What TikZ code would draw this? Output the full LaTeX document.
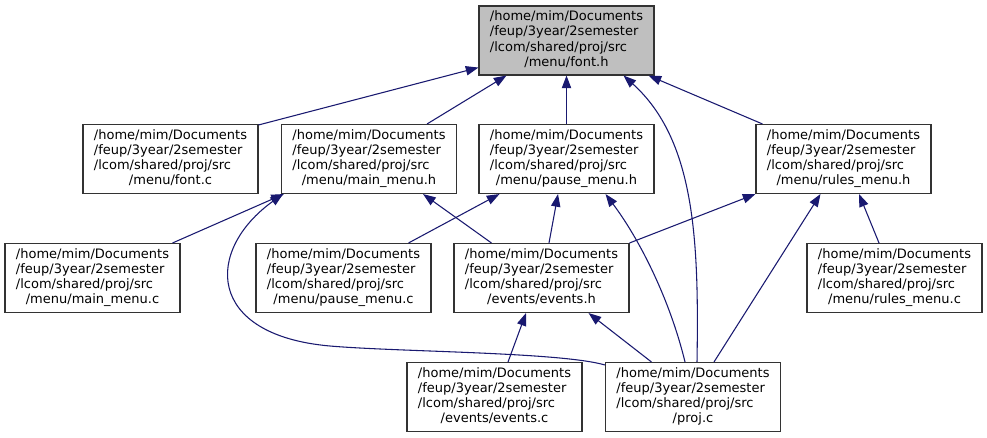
\documentclass[tikz,border=0pt]{standalone}
\usepackage{fontspec}
\setmainfont{DejaVu Sans}
\usetikzlibrary{arrows.meta,calc}
\definecolor{edgeblue}{HTML}{191970}
\definecolor{rootfill}{HTML}{BFBFBF}
\newcommand{\doxlabel}[1]{\begin{tabular}{@{}l@{}}/home/mim/Documents\\/feup/3year/2semester\\/lcom/shared/proj/src\\\multicolumn{1}{@{}c@{}}{#1}\end{tabular}}
\begin{document}
\begin{tikzpicture}[x=0.75pt,y=-0.75pt,
  file/.style={draw=black!80, line width=0.8pt, fill=white, rectangle, minimum width=131.25pt, minimum height=51.75pt, inner sep=0pt, font=\fontsize{9.75pt}{11.4pt}\selectfont},
  rootfile/.style={file, fill=rootfill},
  dep/.style={draw=edgeblue, line width=0.8pt, <-, >={Triangle[length=9.5pt,width=7pt]}}
]
\fill[white] (0,0) rectangle (987,437);

\node[rootfile] (fonth) at (566.5,40.5) {\doxlabel{/menu/font.h}};
\node[file] (fontc) at (170.5,159) {\doxlabel{/menu/font.c}};
\node[file] (mainh) at (369,159) {\doxlabel{/menu/main\_menu.h}};
\node[file] (pauseh) at (566.5,159) {\doxlabel{/menu/pause\_menu.h}};
\node[file] (rulesh) at (843.5,159) {\doxlabel{/menu/rules\_menu.h}};
\node[file] (mainc) at (92.5,278) {\doxlabel{/menu/main\_menu.c}};
\node[file] (pausec) at (343.5,278) {\doxlabel{/menu/pause\_menu.c}};
\node[file] (eventsh) at (541.5,278) {\doxlabel{/events/events.h}};
\node[file] (rulesc) at (894.5,278) {\doxlabel{/menu/rules\_menu.c}};
\node[file] (eventsc) at (494.5,397) {\doxlabel{/events/events.c}};
\node[file] (projc) at (693,397) {\doxlabel{/proj.c}};

% to font.h
\draw[dep] ($(fonth.south west)+(0,-8)$) -- ($(fontc.north east)+(0,1)$);
\draw[dep] ($(fonth.south west)+(28,0)$) -- ($(mainh.north east)+(-30,0)$);
\draw[dep] (fonth.south) -- (pauseh.north);
\draw[dep] ($(fonth.south east)+(-6,0)$) -- ($(rulesh.north west)+(7,0)$);
\draw[dep] ($(fonth.south east)+(-31,0)$) .. controls (695,140) and (699,240) .. ($(projc.north)+(4,0)$);
% to main_menu.h
\draw[dep] ($(mainh.south west)+(3,0)$) -- ($(mainc.north east)+(-8,0)$);
\draw[dep] ($(mainh.south east)+(-34,0)$) -- ($(eventsh.north west)+(38,0)$);
\draw[dep] ($(mainh.south west)+(2,0)$) .. controls (205,250) and (205,335) .. (330,346)
  .. controls (400,352) and (560,352) .. ($(projc.north west)+(0,3)$);
% to pause_menu.h
\draw[dep] ($(pauseh.south west)+(21,0)$) -- ($(pausec.north east)+(-23,0)$);
\draw[dep] ($(pauseh.south)+(-8.5,0)$) -- ($(eventsh.north)+(7.5,0)$);
\draw[dep] ($(pauseh.south east)+(-49,0)$) .. controls (640,240) and (670,300) .. ($(projc.north)+(-8,0)$);
% to rules_menu.h
\draw[dep] (rulesh.south west) -- (eventsh.north east);
\draw[dep] ($(rulesh.south west)+(65,0)$) -- ($(projc.north)+(21,0)$);
\draw[dep] ($(rulesh.south)+(15.5,0)$) -- ($(rulesc.north)+(-15.5,0)$);
% to events.h
\draw[dep] ($(eventsh.south)+(-15.5,0)$) -- ($(eventsc.north)+(13.5,0)$);
\draw[dep] ($(eventsh.south east)+(-41,0)$) -- ($(projc.north west)+(46.5,0)$);
\end{tikzpicture}
\end{document}
